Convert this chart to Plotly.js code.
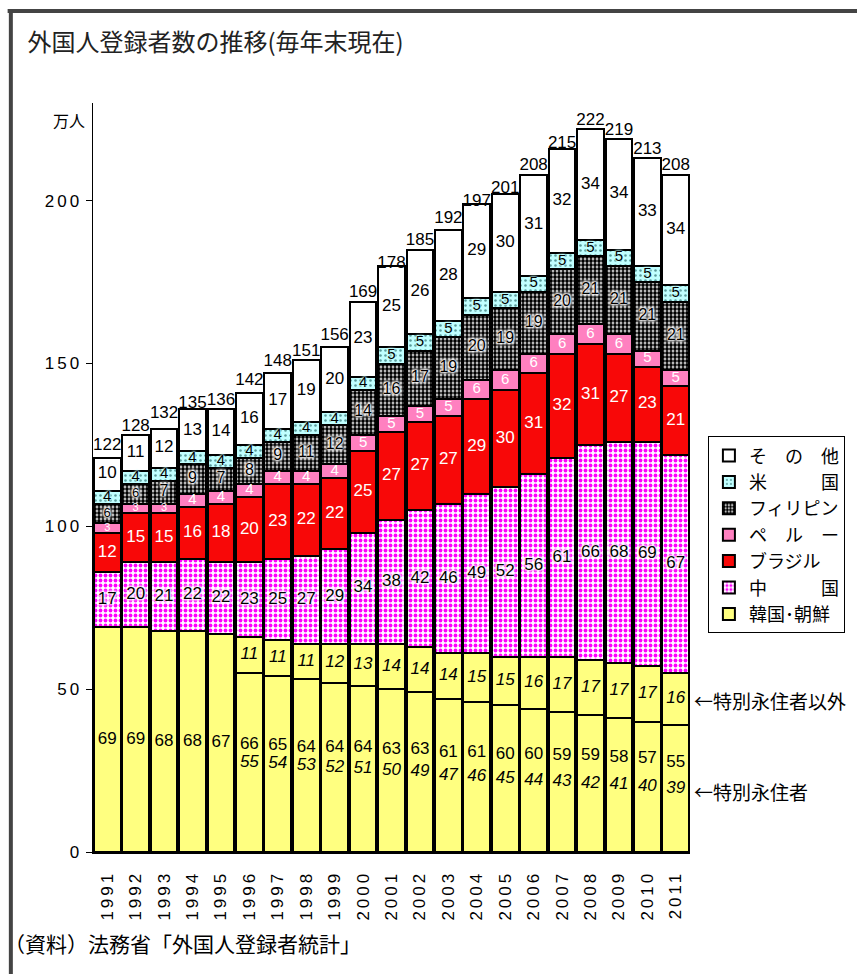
<!DOCTYPE html>
<html>
<head>
<meta charset="utf-8">
<script src="https://cdn.plot.ly/plotly-3.0.1.min.js"></script>
<style>
html,body{margin:0;padding:0;background:#fff;}
#chart{width:857px;height:974px;}
</style>
</head>
<body>
<div id="chart"></div>
<script>
// ---- data (万人) ----
const years = ["1991","1992","1993","1994","1995","1996","1997","1998","1999","2000","2001","2002","2003","2004","2005","2006","2007","2008","2009","2010","2011"];
const totals = [122,128,132,135,136,142,148,151,156,169,178,185,192,197,201,208,215,222,219,213,208];
const korea = [69,69,68,68,67,66,65,64,64,64,63,63,61,61,60,60,59,59,58,57,55];
const specialPerm = [null,null,null,null,null,55,54,53,52,51,50,49,47,46,45,44,43,42,41,40,39];
const nonSpecial = [null,null,null,null,null,11,11,11,12,13,14,14,14,15,15,16,17,17,17,17,16];
const china = [17,20,21,22,22,23,25,27,29,34,38,42,46,49,52,56,61,66,68,69,67];
const brazil = [12,15,15,16,18,20,23,22,22,25,27,27,27,29,30,31,32,31,27,23,21];
const peru = [3,3,3,4,4,4,4,4,4,5,5,5,5,6,6,6,6,6,6,5,5];
const philippines = [6,6,7,9,7,8,9,11,12,14,16,17,19,20,19,19,20,21,21,21,21];
const usa = [4,4,4,4,4,4,4,4,4,4,5,5,5,5,5,5,5,5,5,5,5];
const other = [10,11,12,13,14,16,17,19,20,23,25,26,28,29,30,31,32,34,34,33,34];
const legendNames = ["韓国･朝鮮","中　　　国","ブラジル","ペ　ル　ー","フィリピン","米　　　国","そ　の　他"];
const yTicks = [0,50,100,150,200];

const numFont = "Liberation Sans, Arial, sans-serif";
const jpFont = "Noto Sans CJK JP, sans-serif";
const outline = {color:"#000", width:2};
const spaced = s => '<span style="letter-spacing:3px">' + s + '</span>';
const whiteHalo = "0 0 1px #fff, 0 0 2px #fff, 0 0 3px #fff, 0 0 3px #fff, 0 0 4px #fff, 0 0 4px #fff";
const cyanHalo = "0 0 1px #c0ffff, 0 0 2px #c0ffff, 0 0 3px #c0ffff, 0 0 3px #c0ffff";

// base Korea segment: total Korea before 1996, special permanent residents afterwards
const koreaBase = korea.map((v,i)=> specialPerm[i] == null ? v : specialPerm[i]);

// stack layers bottom -> top
const layers = [
  {name:legendNames[0], vals:koreaBase, legend:true, marker:{color:"#ffff80", line:outline},
   text: specialPerm.map(v=> v==null ? "" : "<i>"+v+"</i>"), font:{color:"#000"}},
  {name:"特別永住者以外", vals:nonSpecial, legend:false, marker:{color:"#ffff80", line:outline},
   text: nonSpecial.map(v=> v==null ? "" : "<i>"+v+"</i>"), font:{color:"#000"}},
  {name:legendNames[1], vals:china, legend:true,
   marker:{color:"#ffffff", line:outline, pattern:{shape:".", fgcolor:"#ff00ff", bgcolor:"#ffffff", size:5, solidity:0.45}},
   text: china.map(String), font:{color:"#000", shadow:whiteHalo}},
  {name:legendNames[2], vals:brazil, legend:true, marker:{color:"#f80808", line:outline},
   text: brazil.map(String), font:{color:"#fff"}},
  {name:legendNames[3], vals:peru, legend:true, marker:{color:"#ff80c0", line:outline},
   text: peru.map(String), font:{color:"#fff", size:peru.map(v=> v<=3 ? 11 : 15)}},
  {name:legendNames[4], vals:philippines, legend:true,
   marker:{color:"#ffffff", line:outline, pattern:{shape:".", fgcolor:"#000000", bgcolor:"#ffffff", size:4, solidity:0.7}},
   text: philippines.map(String), font:{color:"#000", size:philippines.map(v=> v<=6 ? 13 : 16), shadow:whiteHalo}},
  {name:legendNames[5], vals:usa, legend:true,
   marker:{color:"#c0ffff", line:outline, pattern:{shape:".", fgcolor:"#5a9a9a", bgcolor:"#c0ffff", size:5, solidity:0.2}},
   text: usa.map(String), font:{color:"#000", size:15, shadow:cyanHalo}},
  {name:legendNames[6], vals:other, legend:true, marker:{color:"#ffffff", line:outline},
   text: other.map(String), font:{color:"#000"}}
];

const traces = [];
const labelTraces = [];
let cum = years.map(()=>0);
layers.forEach(L=>{
  traces.push({type:"bar", x:years, y:L.vals, name:L.name, showlegend:L.legend,
               marker:L.marker, hoverinfo:"skip"});
  const centers = L.vals.map((v,i)=> v==null ? null : cum[i] + v/2);
  labelTraces.push({type:"scatter", mode:"text", x:years, y:centers, text:L.text,
    textposition:"middle center", textfont:Object.assign({family:numFont, size:17}, L.font),
    showlegend:false, hoverinfo:"skip", cliponaxis:false});
  cum = cum.map((c,i)=> c + (L.vals[i]==null ? 0 : L.vals[i]));
});
// total Korea label at centre of whole Korea column
labelTraces.push({type:"scatter", mode:"text", x:years, y:korea.map(v=>v/2), text:korea.map(String),
   textposition:"middle center", textfont:{family:numFont, size:17, color:"#000"},
   showlegend:false, hoverinfo:"skip", cliponaxis:false});
// totals above the bars
labelTraces.push({type:"scatter", mode:"text", x:years, y:totals, text:totals.map(String),
   textposition:"top center", textfont:{family:numFont, size:17, color:"#000"},
   showlegend:false, hoverinfo:"skip", cliponaxis:false});

const last = years.length-1;
const layout = {
  width:857, height:974,
  margin:{l:93, r:161, t:103, b:122},
  paper_bgcolor:"#fff", plot_bgcolor:"#fff",
  barmode:"stack", bargap:0.06,
  hovermode:false,
  showlegend:true,
  font:{family:jpFont, color:"#000"},
  title:{text:"外国人登録者数の推移(毎年末現在)", xref:"container", yref:"container",
         x:0.032, xanchor:"left", y:0.956, yanchor:"middle",
         font:{family:jpFont, size:24, color:"#222"}},
  xaxis:{type:"category", range:[-0.5, 20.5], showline:true, linecolor:"#000", linewidth:2,
         tickmode:"array", tickvals:years, ticktext:years.map(spaced),
         ticks:"outside", ticklen:10, tickcolor:"rgba(0,0,0,0)",
         tickangle:-90, tickfont:{family:numFont, size:17, color:"#000"},
         showgrid:false, zeroline:false, fixedrange:true},
  yaxis:{range:[0,230], tickmode:"array", tickvals:yTicks, ticktext:yTicks.map(v=>spaced(String(v))),
         showline:true, linecolor:"#000", linewidth:1.5, ticks:"outside", ticklen:6, tickcolor:"#000",
         tickfont:{family:numFont, size:17, color:"#000"}, showgrid:false, zeroline:false, fixedrange:true},
  legend:{x:1.03, xanchor:"left", y:0.555, yanchor:"top", traceorder:"reversed",
          bordercolor:"#000", borderwidth:1, bgcolor:"#fff",
          font:{family:jpFont, size:18, color:"#000"}, itemwidth:30, tracegroupgap:0},
  annotations:[
    {text:"万人", xref:"paper", yref:"paper", x:-0.01, xanchor:"right", y:1.0, yanchor:"top", yshift:-3,
     showarrow:false, font:{family:jpFont, size:16, color:"#000"}},
    {text:"←特別永住者以外", xref:"paper", yref:"y", x:1.0, xanchor:"left", xshift:2,
     y: specialPerm[last] + nonSpecial[last]/2, yanchor:"middle", yshift:-2,
     showarrow:false, font:{family:jpFont, size:19, color:"#000"}},
    {text:"←特別永住者", xref:"paper", yref:"y", x:1.0, xanchor:"left", xshift:2,
     y: specialPerm[last]/2 - 1, yanchor:"middle",
     showarrow:false, font:{family:jpFont, size:19, color:"#000"}},
    {text:"（資料）法務省「外国人登録者統計」", xref:"paper", yref:"paper", x:-0.152, xanchor:"left",
     y:-0.1215, yanchor:"middle", showarrow:false, font:{family:jpFont, size:21, color:"#000"}}
  ],
  shapes:[
    {type:"line", xref:"paper", yref:"paper", x0:-0.143, x1:1.3, y0:1.1228, y1:1.1228, line:{color:"#444", width:4}},
    {type:"line", xref:"paper", yref:"paper", x0:-0.1376, x1:-0.1376, y0:1.125, y1:-0.17, line:{color:"#444", width:4}}
  ]
};

Plotly.newPlot("chart", traces.concat(labelTraces), layout, {staticPlot:true, displayModeBar:false});
</script>
</body>
</html>
